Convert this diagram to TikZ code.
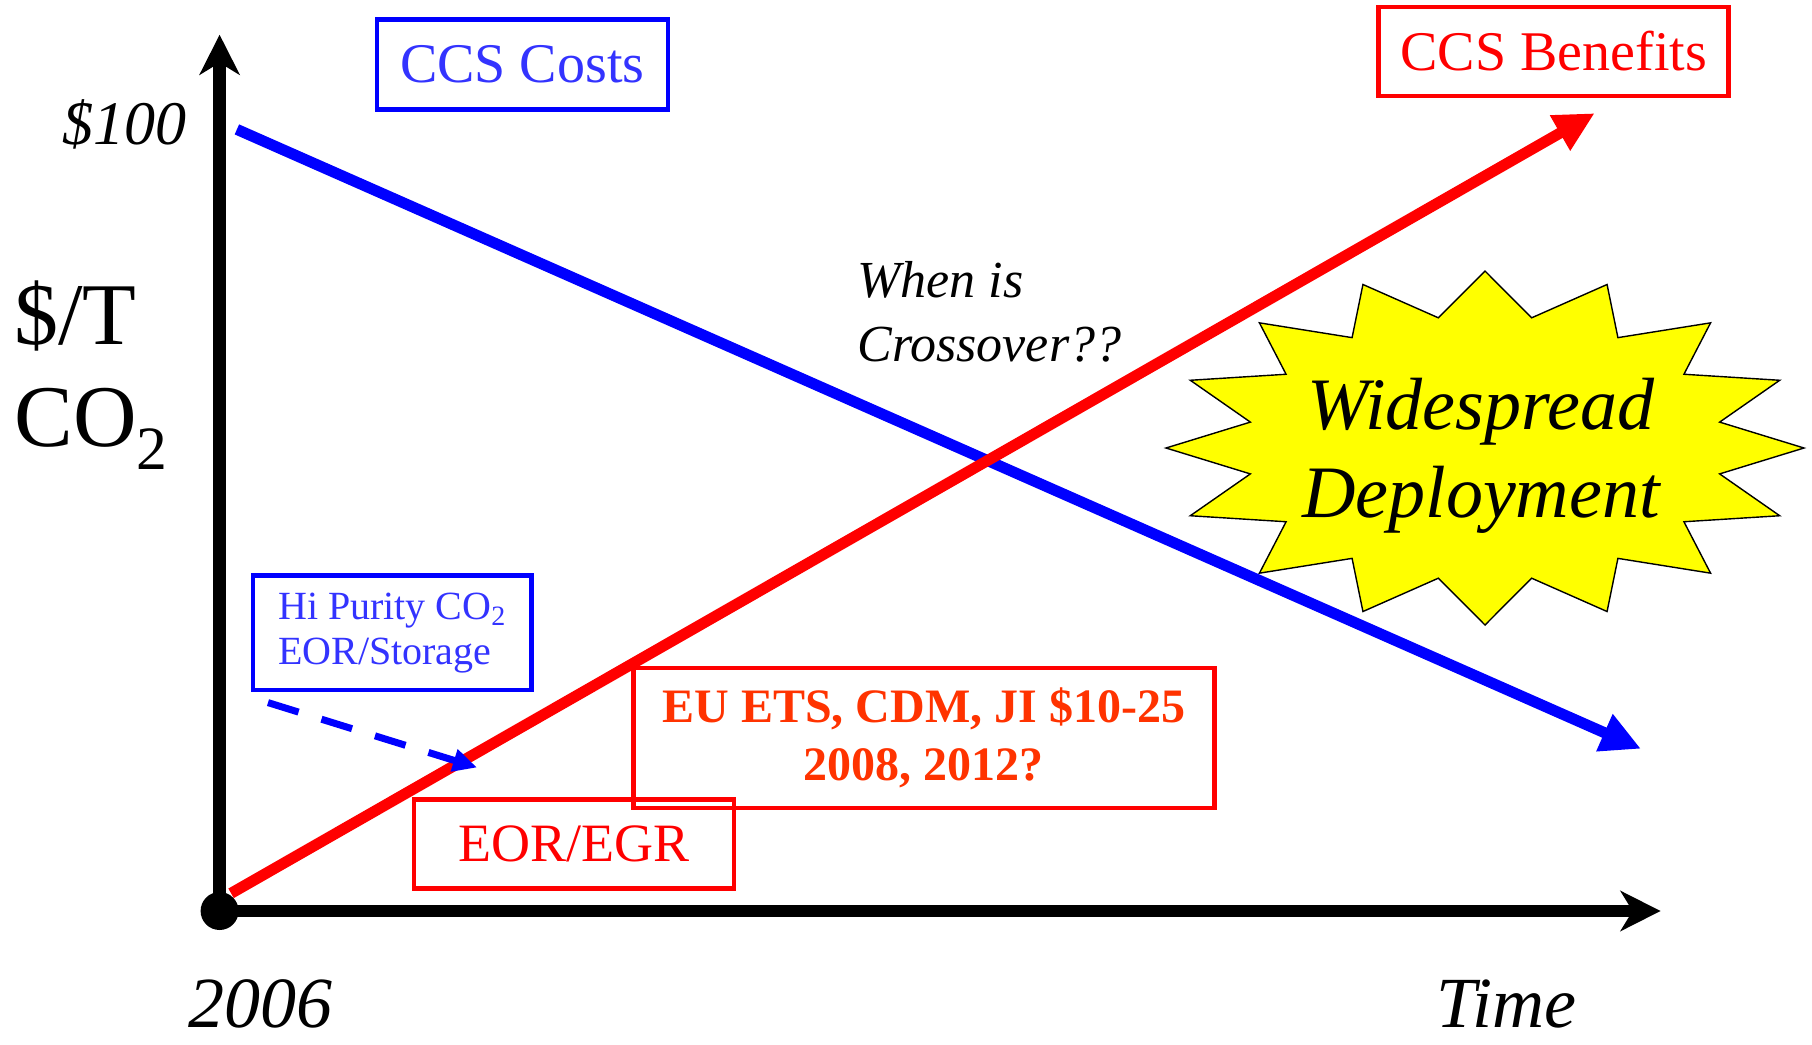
\documentclass[tikz,border=0pt]{standalone}
\usepackage{fontspec}
\setmainfont{Liberation Serif}
\usepackage{xcolor}
\usepackage{tikz}
\usetikzlibrary{calc,arrows.meta}
\definecolor{costblue}{HTML}{0000FF}
\definecolor{costtext}{HTML}{3333FF}
\definecolor{benred}{HTML}{FF0000}
\definecolor{etsred}{HTML}{FF3300}
\definecolor{burstyellow}{HTML}{FFFF00}

\begin{document}
\begin{tikzpicture}[x=0.5pt,y=-0.5pt,
    axis/.style={line width=6.3pt,-{Stealth[length=20pt,width=20pt,inset=6pt]}},
    trend/.style={line width=5.5pt,-{Triangle[length=20pt,width=19pt]}},
    hint/.style={costblue,line width=3.5pt,dash pattern=on 16pt off 12pt,-{Triangle[length=12pt,width=11pt]}},
    tag/.style={draw,line width=2.3pt,inner sep=0pt,align=center},
    burst/.style={fill=burstyellow,draw=black,line width=0.7pt,line join=miter}]
    \useasboundingbox (0,0) rectangle (1812,1045);
    % centre and radii of the starburst
    \def\cx{1485}
    \def\cy{448}
    \def\rx{319}
    \def\ry{177}
    % 16 points, inner corners at 3/4 of the radius
    \draw[burst] (\cx,\cy-\ry) \foreach \i [evaluate=\i as \r using {1-0.25*mod(\i,2)}] in {1,...,31} {
        -- ({\cx+\rx*\r*cos(90+11.25*\i)},{\cy-\ry*\r*sin(90+11.25*\i)})
    } -- cycle;
    \node[align=center,inner sep=0pt,font=\fontsize{37}{44}\selectfont\itshape] (deploy) at (1481,456) {Widespread\\Deployment};

    % axes
    \node[circle,fill,minimum size=19pt,inner sep=0pt] (o) at (219.6,911) {};
    \coordinate (ytip) at (219.6,34.7);
    \coordinate (xtip) at (1660.6,911);
    \draw[axis] (o.center) -- (ytip);
    \draw[axis] (o.center) -- (xtip);
    \node[anchor=east,inner sep=0pt,font=\fontsize{31}{36}\selectfont\itshape] (hundred) at (187,124.8) {\$100};
    \node[anchor=west,inner sep=0pt,align=left,font=\fontsize{44}{51}\selectfont] (unit) at (14,375) {\$/T\\CO\textsubscript{2}};
    \node[anchor=west,inner sep=0pt,font=\fontsize{36}{40}\selectfont\itshape] (start) at (188,1004) {2006};
    \node[anchor=west,inner sep=0pt,font=\fontsize{36}{40}\selectfont\itshape] (time) at (1436,1004) {Time};

    % cost and benefit trends
    \coordinate (cost0) at (236.9,129.4);
    \coordinate (cost1) at (1641,748.8);
    \coordinate (ben0) at (231.1,893.3);
    \coordinate (ben1) at (1594.7,113.2);
    \draw[trend,costblue] (cost0) -- (cost1);
    \draw[trend,benred] (ben0) -- (ben1);
    \node[anchor=west,inner sep=0pt,align=left,font=\fontsize{26}{32}\selectfont\itshape] (cross) at (857,312) {When is\\Crossover??};

    % labels in boxes
    \node[tag,draw=costblue,text=costtext,minimum width=145.5pt,minimum height=45pt,font=\fontsize{28}{32}\selectfont] (costs) at (522.3,64.7) {CCS Costs};
    \node[tag,draw=benred,text=benred,minimum width=175pt,minimum height=44.5pt,font=\fontsize{28}{32}\selectfont] (benefits) at (1553.7,51.4) {CCS Benefits};
    \node[tag,draw=costblue,text=costtext,align=left,minimum width=139.3pt,minimum height=57.2pt,font=\fontsize{20}{22.5}\selectfont] (purity) at (392.3,632.7) {Hi Purity CO\textsubscript{2}\\EOR/Storage};
    \node[tag,draw=benred,text=etsred,minimum width=290.6pt,minimum height=70pt,font=\fontsize{24}{29}\selectfont\bfseries] (ets) at (923.9,737.9) {EU ETS, CDM, JI \$10-25\\2008, 2012?};
    \node[tag,draw=benred,text=benred,minimum width=160pt,minimum height=44.5pt,font=\fontsize{27}{32}\selectfont] (egr) at (573.8,844.2) {EOR/EGR};

    % purity hint onto the benefit line
    \coordinate (dash0) at (268,702.6);
    \coordinate (dash1) at (477,767.5);
    \draw[hint] (dash0) -- (dash1);
\end{tikzpicture}
\end{document}
